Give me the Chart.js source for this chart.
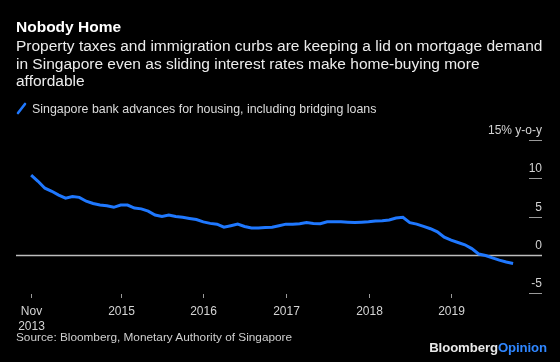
<!DOCTYPE html>
<html>
<head>
<meta charset="utf-8">
<script src="https://cdn.jsdelivr.net/npm/chart.js@4"></script>
<style>
  html, body { margin: 0; padding: 0; background: #000; }
  #wrap { position: relative; width: 560px; height: 362px; background: #000; overflow: hidden; font-family: "Liberation Sans", Arial, sans-serif; }
  #wrap canvas { position: absolute; left: 0; top: 0; }
  .txt { position: absolute; white-space: nowrap; }
  #title { left: 16px; top: 18px; font-size: 15.5px; font-weight: bold; color: #fff; line-height: 18px; }
  #subtitle { left: 16px; top: 37px; font-size: 15.5px; color: #ececec; line-height: 17.7px; }
  #legend { left: 32px; top: 102px; font-size: 12.4px; color: #dcdcdc; line-height: 14px; }
  #legendIcon { position: absolute; left: 16px; top: 102px; width: 12px; height: 13px; }
  #source { left: 16px; top: 331px; font-size: 11.8px; color: #cfcfcf; line-height: 13px; }
  #logo { right: 13px; top: 341px; font-size: 13.2px; font-weight: bold; color: #e8e8e8; line-height: 14px; letter-spacing: -0.1px; }
  #logo span { color: #2f86ff; }
</style>
</head>
<body>
<div id="wrap">
  <canvas id="chart" width="560" height="362"></canvas>
  <div class="txt" id="title">Nobody Home</div>
  <div class="txt" id="subtitle">Property taxes and immigration curbs are keeping a lid on mortgage demand<br>in Singapore even as sliding interest rates make home-buying more<br>affordable</div>
  <svg id="legendIcon" viewBox="0 0 12 13"><line x1="2" y1="11" x2="9" y2="2" stroke="#1f78ff" stroke-width="2.6" stroke-linecap="round"/></svg>
  <div class="txt" id="legend">Singapore bank advances for housing, including bridging loans</div>
  <div class="txt" id="source">Source: Bloomberg, Monetary Authority of Singapore</div>
  <div class="txt" id="logo">Bloomberg<span>Opinion</span></div>
</div>
<script>
// Year-on-year growth, monthly from Nov 2013
const housingLoans = [
  10.4, 9.6, 8.7, 8.3, 7.8, 7.4, 7.6, 7.5, 7.0, 6.7,
  6.5, 6.4, 6.2, 6.5, 6.5, 6.1, 6.0, 5.7, 5.2, 5.0,
  5.2, 5.0, 4.9, 4.75, 4.6, 4.3, 4.1, 4.0, 3.6, 3.8,
  4.0, 3.7, 3.5, 3.5, 3.55, 3.6, 3.8, 4.0, 4.0, 4.05,
  4.2, 4.1, 4.05, 4.3, 4.3, 4.3, 4.25, 4.2, 4.25, 4.3,
  4.4, 4.45, 4.55, 4.8, 4.9, 4.2, 4.0, 3.7, 3.4, 3.0,
  2.3, 1.9, 1.6, 1.3, 0.8, 0.1, -0.1, -0.4, -0.7, -0.95,
  -1.15
];

// x ticks: month index from the first point
const xTickPos = [0, 13, 25, 37, 49, 61];
const xTickLabels = [["Nov", "2013"], "2015", "2016", "2017", "2018", "2019"];

const yTicks = [15, 10, 5, 0, -5];
const yTickLabels = ["15% y-o-y", "10", "5", "0", "-5"];

const axisPlugin = {
  id: "bbgAxes",
  beforeDatasetsDraw(chart) {
    const ctx = chart.ctx;
    const area = chart.chartArea;
    const x = chart.scales.x;
    const y = chart.scales.y;
    ctx.save();

    // zero line
    const y0 = Math.round(y.getPixelForValue(0)) + 0.5;
    ctx.strokeStyle = "#bdbdbd";
    ctx.lineWidth = 1.3;
    ctx.beginPath();
    ctx.moveTo(area.left, y0);
    ctx.lineTo(area.right, y0);
    ctx.stroke();

    // y ticks on the right: label above a short dash
    ctx.font = "12px 'Liberation Sans', Arial, sans-serif";
    ctx.textAlign = "right";
    ctx.textBaseline = "alphabetic";
    yTicks.forEach(function (v, i) {
      const py = Math.round(y.getPixelForValue(v)) + 0.5;
      if (v !== 0) {
        ctx.strokeStyle = "#9a9a9a";
        ctx.lineWidth = 1;
        ctx.beginPath();
        ctx.moveTo(area.right - 13, py);
        ctx.lineTo(area.right, py);
        ctx.stroke();
      }
      ctx.fillStyle = "#d4d4d4";
      ctx.fillText(yTickLabels[i], area.right, py - 7);
    });

    // x ticks below the plot
    ctx.textAlign = "center";
    xTickPos.forEach(function (m, i) {
      const px = Math.round(x.getPixelForValue(m)) + 0.5;
      ctx.strokeStyle = "#9a9a9a";
      ctx.lineWidth = 1;
      ctx.beginPath();
      ctx.moveTo(px, area.bottom + 1);
      ctx.lineTo(px, area.bottom + 5);
      ctx.stroke();
      ctx.fillStyle = "#d4d4d4";
      const lab = xTickLabels[i];
      if (Array.isArray(lab)) {
        lab.forEach(function (t, k) {
          ctx.fillText(t, px, area.bottom + 22 + k * 15);
        });
      } else {
        ctx.fillText(lab, px, area.bottom + 22);
      }
    });
    ctx.restore();
  }
};

new Chart(document.getElementById("chart").getContext("2d"), {
  type: "line",
  data: {
    datasets: [
      {
        label: "Singapore bank advances for housing, including bridging loans",
        data: housingLoans.map(function (v, i) { return { x: i, y: v }; }),
        borderColor: "#1f78ff",
        borderWidth: 3,
        pointRadius: 0,
        tension: 0,
        fill: false,
      },
    ],
  },
  options: {
    responsive: false,
    animation: false,
    events: [],
    layout: {
      padding: { left: 16, right: 18, top: 140, bottom: 69 },
    },
    plugins: {
      legend: { display: false },
      tooltip: { enabled: false },
    },
    scales: {
      x: { type: "linear", display: false, min: -2.2, max: 74.2 },
      y: { type: "linear", display: false, min: -5, max: 15 },
    },
  },
  plugins: [axisPlugin],
});
</script>
</body>
</html>
